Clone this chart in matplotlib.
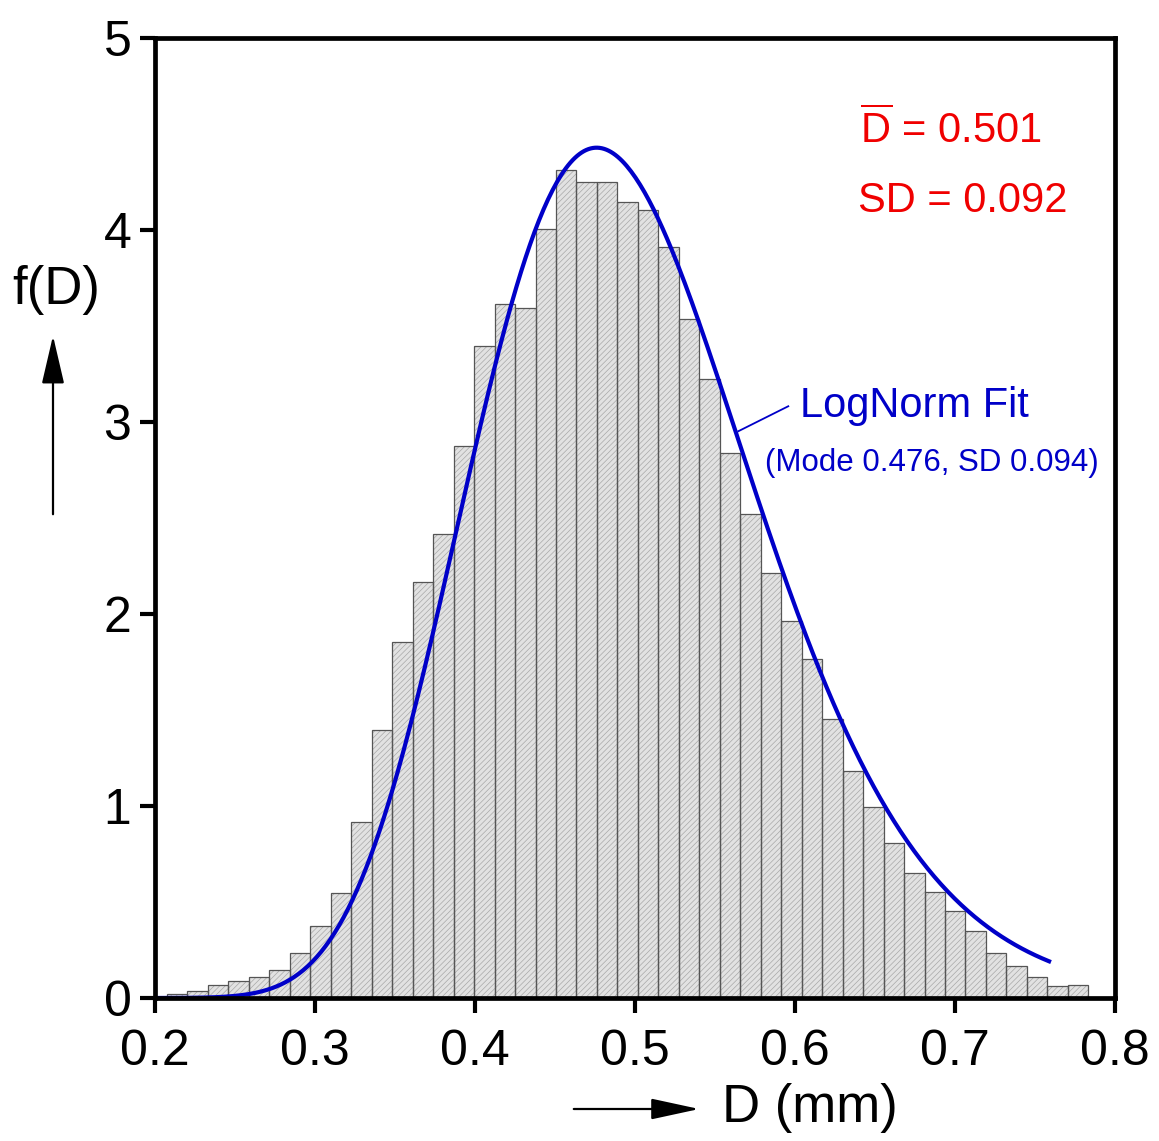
import numpy as np
import matplotlib
matplotlib.use("Agg")
import matplotlib.pyplot as plt
from matplotlib.patches import FancyArrowPatch

plt.rcParams['font.family'] = ['Liberation Sans', 'DejaVu Sans']
plt.rcParams['mathtext.fontset'] = 'custom'
plt.rcParams['mathtext.rm'] = 'Liberation Sans'
plt.rcParams['hatch.linewidth'] = 0.5

# ---- data ----
bin_first_edge = 0.2075
bin_width = 0.012796
freq = [0.020, 0.035, 0.068, 0.088, 0.108, 0.147, 0.233, 0.376, 0.545, 0.915,
        1.394, 1.855, 2.165, 2.415, 2.874, 3.395, 3.613, 3.593, 4.005, 4.313,
        4.252, 4.252, 4.145, 4.103, 3.914, 3.534, 3.224, 2.836, 2.523, 2.213,
        1.963, 1.764, 1.455, 1.183, 0.995, 0.805, 0.650, 0.550, 0.451, 0.350,
        0.233, 0.168, 0.111, 0.064, 0.069]
fit_mode = 0.476
fit_sigma = 0.186          # log-space sigma of the lognormal fit
fit_range = (0.2, 0.76)
xticks = [0.2, 0.3, 0.4, 0.5, 0.6, 0.7, 0.8]
xticklabels = ['0.2', '0.3', '0.4', '0.5', '0.6', '0.7', '0.8']
yticks = [0, 1, 2, 3, 4, 5]
yticklabels = ['0', '1', '2', '3', '4', '5']
mean_text = r'$\overline{\mathrm{D}}$ = 0.501'
sd_text = 'SD = 0.092'
fit_label = 'LogNorm Fit'
fit_sub = '(Mode 0.476, SD 0.094)'

W, H = 1159, 1141
fig = plt.figure(figsize=(W / 100, H / 100), dpi=100)
ax = fig.add_axes([155 / W, 1 - 998 / H, 960 / W, 960 / H])

n = len(freq)
lefts = bin_first_edge + bin_width * np.arange(n)

# hatched fill
ax.bar(lefts, freq, width=bin_width, align='edge', color='#e2e2e2',
       edgecolor='#a8a8a8', linewidth=0, hatch='//////', zorder=1)
# outlines
ax.bar(lefts, freq, width=bin_width, align='edge', fill=False,
       edgecolor='#555555', linewidth=0.9, zorder=2)

# lognormal fit curve
mu = np.log(fit_mode) + fit_sigma ** 2
xs = np.linspace(fit_range[0], fit_range[1], 400)
ys = np.exp(-(np.log(xs) - mu) ** 2 / (2 * fit_sigma ** 2)) / (xs * fit_sigma * np.sqrt(2 * np.pi))
ax.plot(xs, ys, color='#0000c8', linewidth=3.0, zorder=3, solid_capstyle='butt')

ax.set_xlim(0.2, 0.8)
ax.set_ylim(0, 5)
ax.set_xticks(xticks)
ax.set_xticklabels(xticklabels)
ax.set_yticks(yticks)
ax.set_yticklabels(yticklabels)
for s in ax.spines.values():
    s.set_linewidth(3.4)
    s.set_zorder(5)
ax.tick_params(axis='both', direction='out', length=11, width=3.0, labelsize=36)
ax.tick_params(axis='x', pad=11)
ax.tick_params(axis='y', pad=6)

# annotations
ax.text(0.6406, 4.52, mean_text, color='#f00000', fontsize=30, va='center', ha='left')
ax.text(0.6394, 4.152, sd_text, color='#f00000', fontsize=30, va='center', ha='left')
ax.text(0.6031, 3.085, fit_label, color='#0000c8', fontsize=30, va='center', ha='left')
ax.text(0.5812, 2.789, fit_sub, color='#0000c8', fontsize=22.5, va='center', ha='left')
ax.plot([0.5646, 0.5958], [2.952, 3.082], color='#0000c8', linewidth=1.3, zorder=3)

# axis labels with arrows
fig.text(56 / W, 1 - 290 / H, 'f(D)', fontsize=38, ha='center', va='center')
fig.text(722 / W, 1 - 1108 / H, 'D (mm)', fontsize=38, ha='left', va='center')

arr_y = FancyArrowPatch((53, H - 517), (53, H - 333), transform=None,
                        arrowstyle='-|>,head_length=30,head_width=7',
                        mutation_scale=1, color='black', linewidth=1.6)
arr_x = FancyArrowPatch((571, H - 1109), (702, H - 1109), transform=None,
                        arrowstyle='-|>,head_length=30,head_width=6.5',
                        mutation_scale=1, color='black', linewidth=1.6)
fig.patches.extend([arr_y, arr_x])

fig.savefig('out.png', dpi=100)
